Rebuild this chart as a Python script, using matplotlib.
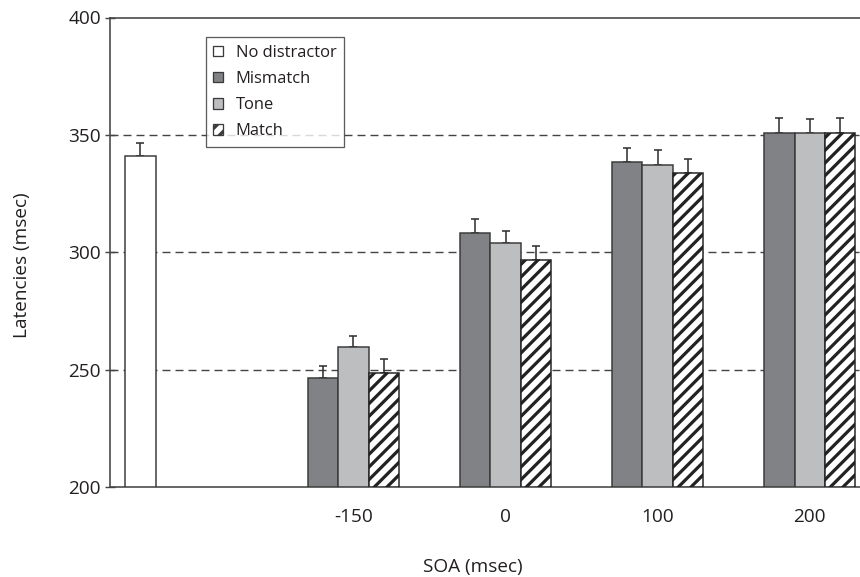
import matplotlib
matplotlib.use("Agg")
import matplotlib.pyplot as plt
from matplotlib.patches import Patch
import numpy as np

DPI = 76
def px(v):
    return v * 72.0 / DPI

# ---- data ----
soa_labels = ["-150", "0", "100", "200"]
series_names = ["No distractor", "Mismatch", "Tone", "Match"]
no_distractor = 341.0
no_distractor_err = 5.4
mismatch = [246.4, 308.1, 338.3, 350.9]
mismatch_err = [5.0, 6.1, 6.1, 6.4]
tone = [259.5, 303.8, 337.0, 350.7]
tone_err = [4.9, 5.4, 6.4, 5.9]
match = [248.4, 296.7, 333.8, 350.7]
match_err = [6.0, 5.8, 6.1, 6.6]

plt.rcParams['font.family'] = ['Open Sans', 'DejaVu Sans']
plt.rcParams['hatch.linewidth'] = px(3.2)
plt.rcParams['hatch.color'] = 'black'

fig = plt.figure(figsize=(860 / DPI, 577 / DPI), dpi=DPI)
ax = fig.add_axes([110 / 860, 1 - 487 / 577, 1 - 110 / 860, (487 - 17.5) / 577])

edge = '#3a3a3a'
c_mis = '#808285'
c_tone = '#bcbec0'
w = 0.2
x = np.arange(len(soa_labels))
nd_x = -1.4
FS = px(19)
TXT = '#231f20'

err_kw = dict(ecolor='#333333', elinewidth=px(1.6), capsize=px(4), capthick=px(1.6))

def draw(xpos, vals, errs, color, hatch=None, ec=edge):
    vals = np.atleast_1d(vals)
    errs = np.atleast_1d(errs)
    bars = ax.bar(xpos, vals - 200, width=w, bottom=200, color=color, edgecolor=ec,
                  linewidth=px(1.5), hatch=hatch, zorder=3)
    if hatch:
        for b in bars:
            try:
                b.set_hatchcolor('black')
            except Exception:
                pass
    ax.errorbar(xpos, vals, yerr=[np.zeros_like(errs), errs], fmt='none', zorder=2, **err_kw)

draw(np.array([nd_x]), no_distractor, no_distractor_err, 'white')
draw(x - w, mismatch, mismatch_err, c_mis)
draw(x, tone, tone_err, c_tone)
draw(x + w, match, match_err, 'white', hatch='//', ec='#222222')

ax.set_xlim(-1.6, 3.33)
ax.set_ylim(200, 400)
ax.set_yticks([200, 250, 300, 350, 400])
ax.set_xticks(x)
ax.set_xticklabels(soa_labels)

for yv in [250, 300, 350]:
    ax.axhline(yv, color='#444444', lw=px(1.4), ls=(0, (px(8) / px(1.4), px(5) / px(1.4))), zorder=1)

for s in ['left', 'top', 'bottom']:
    ax.spines[s].set_color('#444444')
    ax.spines[s].set_linewidth(px(1.6))
ax.spines['right'].set_visible(False)

ax.tick_params(axis='y', direction='inout', length=px(10), width=px(1.4), color='#444444',
               labelsize=FS, pad=px(4), labelcolor=TXT)
ax.tick_params(axis='x', length=0, labelsize=FS, pad=px(21), labelcolor=TXT)

fig.text(22 / 860, 1 - 265 / 577, 'Latencies (msec)', rotation=90, ha='center', va='center',
         fontsize=FS, color=TXT)
fig.text(473 / 860, 1 - 567 / 577, 'SOA (msec)', ha='center', va='center',
         fontsize=FS, color=TXT)

lp = dict(edgecolor=edge, linewidth=px(1.3))
handles = [
    Patch(facecolor='white', **lp),
    Patch(facecolor=c_mis, **lp),
    Patch(facecolor=c_tone, **lp),
    Patch(facecolor='white', hatch='//', **lp),
]
try:
    handles[3].set_hatchcolor('black')
except Exception:
    pass
leg = ax.legend(handles, series_names, loc='upper left',
                bbox_to_anchor=(205.7 / 860, 1 - 37.3 / 577), bbox_transform=fig.transFigure,
                fontsize=px(16.5), frameon=True, fancybox=False, shadow=False,
                handlelength=0.62, handleheight=0.62, handletextpad=0.75,
                labelspacing=0.62, borderpad=0.45, borderaxespad=0)
for t in leg.get_texts():
    t.set_color(TXT)
leg.get_frame().set_edgecolor('#333333')
leg.get_frame().set_linewidth(px(1.3))
leg.set_zorder(5)

fig.savefig('out.png', dpi=DPI)
